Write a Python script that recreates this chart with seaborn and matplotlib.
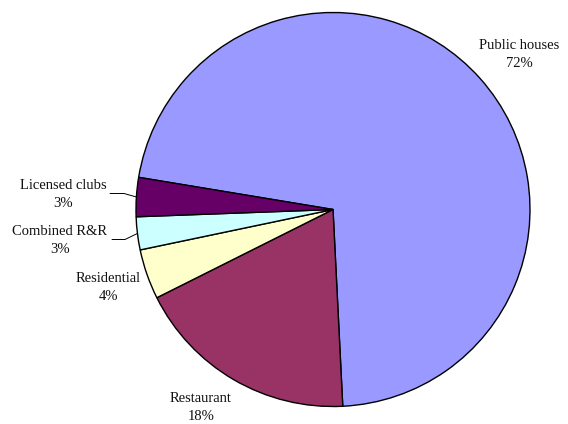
import numpy as np
import matplotlib
matplotlib.use("Agg")
import matplotlib.pyplot as plt
import seaborn as sns

categories = ["Public houses", "Restaurant", "Residential", "Combined R&R", "Licensed clubs"]
values = [71.6, 18.4, 4.1, 2.7, 3.2]
colors = ["#9999FF", "#993366", "#FFFFCC", "#CCFFFF", "#660066"]

sns.set_style("white")
plt.rcParams["font.family"] = ["Liberation Serif", "DejaVu Serif"]

W, H, DPI = 568, 424, 100
CX, CY, R = 333.0, 209.5, 197.0

fig = plt.figure(figsize=(W / DPI, H / DPI), dpi=DPI)
ax = fig.add_axes([0, 0, 1, 1])
wedges, _ = ax.pie(values, colors=colors, startangle=170.6, counterclock=False,
                   radius=1.0, center=(0, 0),
                   wedgeprops=dict(edgecolor="black", linewidth=1.0))
ax.set_xlim(-CX / R, (W - CX) / R)
ax.set_ylim(-(H - CY) / R, CY / R)
ax.set_aspect("equal", adjustable="datalim")
ax.axis("off")


def px(x, y):
    return ((x - CX) / R, (CY - y) / R)


label_px = {
    "Public houses": (519, 54),
    "Restaurant": (201, 408),
    "Residential": (108, 287),
    "Combined R&R": (60, 240),
    "Licensed clubs": (63, 194),
}
for cat, v in zip(categories, values):
    x, y = px(*label_px[cat])
    ax.text(x, y, f"{cat}\n{round(v)}%", ha="center", va="center",
            fontsize=10.5, linespacing=1.5, color="#111111")

# leader lines for the small slices
leaders = {"Licensed clubs": (110, 124, 193.5), "Combined R&R": (112, 125, 239.5)}
for w, cat in zip(wedges, categories):
    if cat in leaders:
        mid = np.deg2rad((w.theta1 + w.theta2) / 2)
        ex, ey = np.cos(mid), np.sin(mid)
        x0, x1, yy = leaders[cat]
        a = px(x0, yy)
        b = px(x1, yy)
        ax.plot([a[0], b[0], ex], [a[1], b[1], ey], color="black", lw=0.7)

fig.savefig("out.png", dpi=DPI)
